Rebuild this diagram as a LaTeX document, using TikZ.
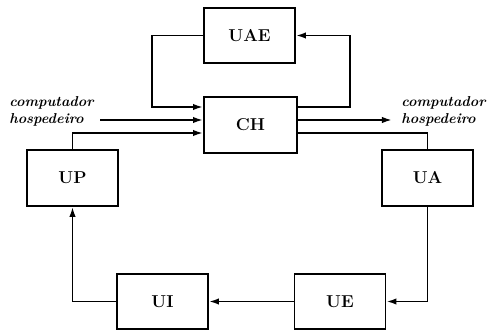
\documentclass[tikz,border=0pt]{standalone}
\usepackage{tikz}
\usetikzlibrary{positioning,arrows.meta,calc}

\begin{document}
\begin{tikzpicture}[x=0.0245cm, y=-0.0245cm,
  bloco/.style={draw, line width=1.3pt, minimum width=2.23cm, minimum height=1.34cm,
    inner sep=0pt, font=\large\bfseries},
  seta/.style={line width=1.3pt, -{Latex[length=7pt, width=4.5pt]}},
  linha/.style={line width=1.3pt},
  rotulo/.style={font=\bfseries\itshape, align=left, inner sep=0pt}]
  % Margens
  \useasboundingbox (0,0) rectangle (487,330);

  % Blocos
  \node[bloco] (UAE) at (249.5,35.5) {UAE};
  \node[bloco, minimum width=2.28cm, minimum height=1.37cm] (CH) at (250.5,125) {CH};
  \node[bloco, minimum height=1.37cm] (UP) at (72.5,178) {UP};
  \node[bloco, minimum height=1.37cm] (UA) at (427.5,178) {UA};
  \node[bloco] (UI) at (162.5,301.5) {UI};
  \node[bloco] (UE) at (340,301.5) {UE};

  % Rotulos
  \node[rotulo, anchor=west] (hospin) at (9,111.5) {computador\\hospedeiro};
  \node[rotulo, anchor=west] (hospout) at (401,111.5) {computador\\hospedeiro};
  \coordinate (entrada) at (100,120);
  \coordinate (saida) at (392,120);

  % Laco CH - UAE
  \draw[seta] (UAE.west) -- ++(-51,0) |- ($(CH.west)+(0,-18)$);
  \draw[seta] ($(CH.east)+(0,-18)$) -- ++(52,0) |- (UAE.east);

  % Computador hospedeiro
  \draw[seta] (entrada) -- (CH.west |- entrada);
  \draw[seta] (CH.east |- saida) -- (saida);

  % Anel
  \draw[seta] (UP.north) |- ($(CH.west)+(0,8)$);
  \draw[linha] ($(CH.east)+(0,8)$) -| (UA.north);
  \draw[seta] (UA.south) |- (UE.east);
  \draw[seta] (UE.west) -- (UI.east);
  \draw[seta] (UI.west) -| (UP.south);
\end{tikzpicture}
\end{document}
